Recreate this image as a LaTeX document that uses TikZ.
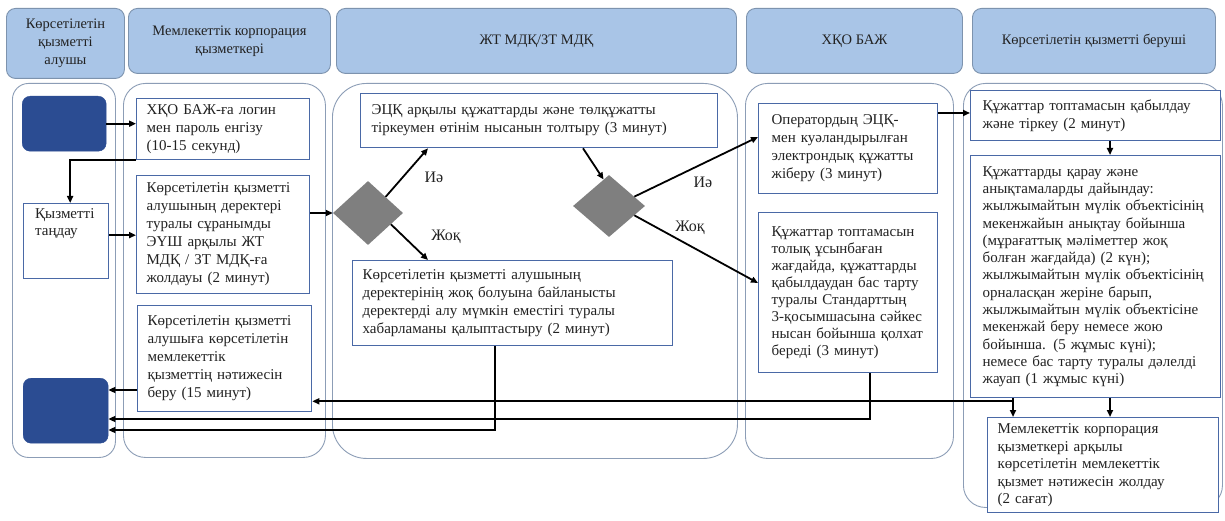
\documentclass[tikz,border=0pt]{standalone}
\usepackage{fontspec}
\setmainfont{Liberation Serif}
\usetikzlibrary{arrows.meta,shapes.geometric,calc}
\definecolor{boxc}{HTML}{4A69A6}
\definecolor{lanec}{HTML}{8C9DB6}
\definecolor{hdrfill}{HTML}{A9C5E7}
\definecolor{hdrdraw}{HTML}{7D93AE}
\definecolor{termc}{HTML}{2B4C92}
\definecolor{dmc}{HTML}{7F7F7F}
\definecolor{txtc}{HTML}{222222}
\begin{document}
\begin{tikzpicture}[x=1pt,y=-1pt,
  every node/.style={text=txtc},
  lanebox/.style={draw=lanec, line width=0.9pt, rounded corners=22pt, anchor=north west, inner sep=0pt},
  hdr/.style={draw=hdrdraw, fill=hdrfill, line width=0.9pt, rounded corners=9pt, anchor=north west, inner sep=0pt, align=center, font=\fontsize{14.5}{18}\selectfont},
  pbox/.style={draw=boxc, fill=white, line width=1.3pt, anchor=north west, inner xsep=10pt, inner ysep=0pt, align=left, font=\fontsize{15}{18}\selectfont},
  term/.style={fill=termc, draw=termc, rounded corners=8pt, anchor=north west, inner sep=0pt},
  dec/.style={diamond, fill=dmc, inner sep=0pt},
  arr/.style={line width=1.8pt, -{Triangle[length=7pt,width=6pt]}},
  lbl/.style={font=\fontsize{16}{18}\selectfont}
]
\useasboundingbox (0,0) rectangle (1225,521);
\fill[white] (0,0) rectangle (1225,521);
% headers
\node[hdr, minimum width=118pt, minimum height=70pt] (h1) at (6,8) {Көрсетілетін\\қызметті\\алушы};
\node[hdr, minimum width=202pt, minimum height=65pt] (h2) at (128,8) {Мемлекеттік корпорация\\қызметкері};
\node[hdr, minimum width=400pt, minimum height=65pt] (h3) at (336,8) {ЖТ МДҚ/ЗТ МДҚ};
\node[hdr, minimum width=216pt, minimum height=65pt] (h4) at (746,8) {ХҚО БАЖ};
\node[hdr, minimum width=243pt, minimum height=65pt] (h5) at (972,8) {Көрсетілетін қызметті беруші};
% lanes
\node[lanebox, rounded corners=16pt, minimum width=103pt, minimum height=374pt] (lane1) at (12,83) {};
\node[lanebox, minimum width=202pt, minimum height=374pt] (lane2) at (123,83) {};
\node[lanebox, rounded corners=34pt, minimum width=405pt, minimum height=375pt] (lane3) at (332,83) {};
\node[lanebox, minimum width=208pt, minimum height=375pt] (lane4) at (745,83) {};
\node[lanebox, minimum width=259pt, minimum height=424pt] (lane5) at (963,83) {};
% lane 1
\node[term, minimum width=84pt, minimum height=55pt] (start) at (22,96) {};
\node[pbox, minimum width=85pt, minimum height=75pt, text width=65pt] (tandau) at (23,203) {};
\node[anchor=north west, inner sep=0pt, align=left, font=\fontsize{15}{17}\selectfont] (tandautxt) at (35,208) {Қызметті\\таңдау};
\node[term, minimum width=85pt, minimum height=65pt] (end) at (23,378) {};
% lane 2
\node[pbox, minimum width=173pt, minimum height=61pt, text width=153pt] (login) at (136,98) {ХҚО БАЖ-ға логин\\мен пароль енгізу\\(10-15 секунд)};
\node[pbox, minimum width=173pt, minimum height=118pt, text width=153pt] (alushy) at (136,175) {Көрсетілетін қызметті\\алушының деректері\\туралы сұранымды\\ЭҮШ арқылы ЖТ\\МДҚ / ЗТ МДҚ-ға\\жолдауы (2 минут)};
\node[pbox, minimum width=174pt, minimum height=106pt, text width=154pt] (alushyga) at (137,305) {Көрсетілетін қызметті\\алушыға көрсетілетін\\мемлекеттік\\қызметтің нәтижесін\\беру (15 минут)};
% lane 3
\node[pbox, minimum width=357pt, minimum height=54pt, text width=335pt, inner xsep=11pt] (ecq) at (360,93) {ЭЦҚ арқылы құжаттарды және төлқұжатты\\тіркеумен өтінім нысанын толтыру (3 минут)};
\node[dec, minimum width=70pt, minimum height=64pt] (d1) at (368,213) {};
\node[dec, minimum width=72pt, minimum height=62pt] (d2) at (609,206) {};
\node[pbox, minimum width=320pt, minimum height=85pt, text width=300pt] (zhoq1) at (352,260) {Көрсетілетін қызметті алушының\\деректерінің жоқ болуына байланысты\\деректерді алу мүмкін еместігі туралы\\хабарламаны қалыптастыру (2 минут)};
\node[lbl] (ie1) at (434,177) {Иә};
\node[lbl] (zh1) at (446,237) {Жоқ};
\node[lbl] (ie2) at (703,182) {Иә};
\node[lbl] (zh2) at (690,228) {Жоқ};
% lane 4
\node[pbox, minimum width=179pt, minimum height=90pt, text width=153pt, inner xsep=13pt] (op) at (758,103) {Оператордың ЭЦҚ-\\мен куәландырылған\\электрондық құжатты\\жіберу (3 минут)};
\node[pbox, minimum width=179pt, minimum height=160pt, text width=153pt, inner xsep=13pt, font=\fontsize{15}{17}\selectfont] (qaitaru) at (758,212) {Құжаттар топтамасын\\толық ұсынбаған\\жағдайда, құжаттарды\\қабылдаудан бас тарту\\туралы Стандарттың\\3-қосымшасына сәйкес\\нысан бойынша қолхат\\береді (3 минут)};
% lane 5
\node[pbox, minimum width=250pt, minimum height=50pt, text width=226pt, inner xsep=12pt] (qabyl) at (970,90) {Құжаттар топтамасын қабылдау\\және тіркеу (2 минут)};
\node[pbox, minimum width=250pt, minimum height=242pt, text width=226pt, inner xsep=12pt, font=\fontsize{15}{17.3}\selectfont] (qarau) at (970,155) {Құжаттарды қарау және\\анықтамаларды дайындау:\\жылжымайтын мүлік объектісінің\\мекенжайын анықтау бойынша\\(мұрағаттық мәліметтер жоқ\\болған жағдайда) (2 күн);\\жылжымайтын мүлік объектісінің\\орналасқан жеріне барып,\\жылжымайтын мүлік объектісіне\\мекенжай беру немесе жою\\бойынша. (5 жұмыс күні);\\немесе бас тарту туралы дәлелді\\жауап (1 жұмыс күні)};
\node[pbox, minimum width=231pt, minimum height=95pt, text width=211pt, font=\fontsize{15}{17.5}\selectfont] (final) at (987,417) {Мемлекеттік корпорация\\қызметкері арқылы\\көрсетілетін мемлекеттік\\қызмет нәтижесін жолдау\\(2 сағат)};
% connectors
\draw[arr] (start.east) -- (start.east -| login.west);
\draw[arr] (login.south west) -| ([xshift=4pt]tandau.north);
\draw[arr] ([yshift=6pt]tandau.east) -- ([yshift=6pt]tandau.east -| alushy.west);
\draw[arr] (d1.west -| alushy.east) -- (d1.west);
\draw[arr] ($(d1.east)!0.5!(d1.north)$) -- ([xshift=68pt]ecq.south west);
\draw[arr] ($(d1.east)!0.35!(d1.south)$) -- ([xshift=76pt]zhoq1.north west);
\draw[arr] ([xshift=223pt]ecq.south west) -- ($(d2.north)!0.15!(d2.west)$);
\draw[arr] ($(d2.east)!0.3!(d2.north)$) -- ([yshift=-34pt]op.north west);
\draw[arr] ($(d2.east)!0.3!(d2.south)$) -- ([yshift=-71pt]qaitaru.north west);
\draw[arr] ([yshift=-10pt]op.north east) -- ([yshift=-10pt]op.north east -| qabyl.west);
\coordinate (q1) at ([xshift=140pt]qabyl.south west);
\draw[arr] (q1) -- (q1 |- qarau.north);
\coordinate (q2) at ([xshift=140pt]qarau.south west);
\draw[arr] (q2) -- (q2 |- final.north);
\coordinate (J) at ([xshift=43pt,yshift=-3pt]qarau.south west);
\draw[line width=1.8pt] (J |- qarau.south) -- (J);
\draw[arr] (J) -- (J -| alushyga.east);
\draw[arr] (J) -- (J |- final.north);
\coordinate (k1) at ([xshift=112pt]qaitaru.south west);
\draw[arr] (k1) |- ([yshift=-41pt]end.north east);
\coordinate (z1) at ([xshift=143pt]zhoq1.south west);
\draw[arr] (z1) |- ([yshift=-52pt]end.north east);
\draw[arr] ([yshift=-85pt]alushyga.north west) -- ([yshift=-85pt]alushyga.north west -| end.east);
\end{tikzpicture}
\end{document}
